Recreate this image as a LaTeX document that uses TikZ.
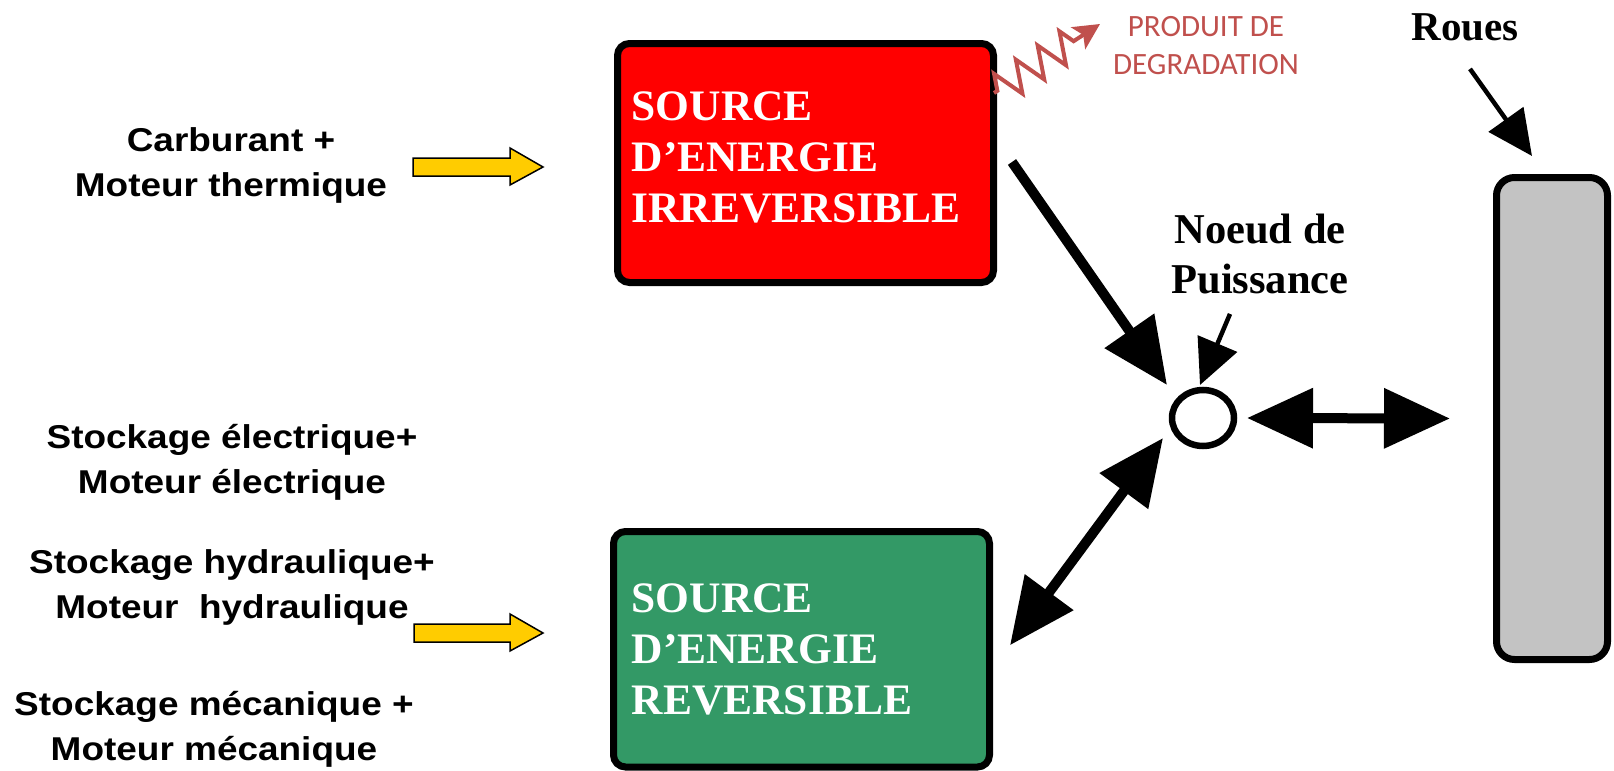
\documentclass[tikz,border=0pt]{standalone}
\usepackage{fontspec}
\setmainfont{Liberation Serif}
\newfontfamily\arialf{Liberation Sans}[FakeStretch=1.12]
\newfontfamily\timesf{Liberation Serif}
\newfontfamily\calif{Carlito}
\usetikzlibrary{arrows.meta,shapes.geometric,decorations.pathmorphing,calc}
\definecolor{boxred}{RGB}{255,0,0}
\definecolor{boxgreen}{RGB}{51,153,102}
\definecolor{wheelgray}{RGB}{195,195,195}
\definecolor{degr}{RGB}{192,80,77}
\definecolor{yarrow}{RGB}{255,204,0}
\tikzset{
 srcbox/.style={draw=black, line width=3.5pt, rounded corners=6pt, inner sep=0pt, minimum width=188pt},
 boxtext/.style={align=left, inner sep=0pt, text=white, anchor=base west,
   font=\timesf\bfseries\fontsize{21.75}{25.5}\selectfont},
 sidetext/.style={align=center, font=\arialf\bfseries\fontsize{16.5}{22.5}\selectfont, inner sep=0pt},
 bigarrow/.style={line width=5pt, -{Triangle[length=33pt,width=29pt]}},
 bigdouble/.style={line width=5pt, {Triangle[length=33pt,width=29pt]}-{Triangle[length=33pt,width=29pt]}},
 thinarrow/.style={line width=2.25pt, -{Triangle[length=22.5pt,width=21pt]}},
 feedarrow/.style={draw=black, line width=0.75pt, fill=yarrow},
 lbl/.style={font=\timesf\bfseries\fontsize{21.25}{25}\selectfont, align=center, inner sep=0pt},
}
\begin{document}
\begin{tikzpicture}[x=0.5pt,y=-0.5pt]
\useasboundingbox (0,0) rectangle (1614,771);
% boxes
\node[srcbox, fill=boxred, minimum height=119.5pt] (irr) at (805.5,163) {};
\node[boxtext] (irrtxt) at ($(irr.north west)+(17.25,182)$) {SOURCE\\D’ENERGIE\\IRREVERSIBLE};
\node[srcbox, fill=boxgreen, minimum height=117.75pt] (rev) at (801.5,649.25) {};
\node[boxtext] (revtxt) at ($(rev.north west)+(21.25,186)$) {SOURCE\\D’ENERGIE\\REVERSIBLE};
\node[draw, line width=3.5pt, rounded corners=9pt, fill=wheelgray, minimum width=55.5pt, minimum height=241pt, inner sep=0pt] (roues) at (1552,418.5) {};
\node[ellipse, draw, line width=3.25pt, minimum width=31pt, minimum height=28pt, inner sep=0pt] (noeud) at (1203,418) {};
% labels (anchor base = baseline of the last line)
\node[lbl, anchor=base] (noeudlbl) at (1260,293) {Noeud de\\Puissance};
\node[lbl, font=\timesf\bfseries\fontsize{20.5}{24}\selectfont, anchor=base] (roueslbl) at (1465,40) {Roues};
\node[font=\calif\fontsize{15.5}{19}\selectfont, text=degr, align=center, inner sep=0pt, anchor=base] (degrlbl) at (1206,74) {PRODUIT DE\\DEGRADATION};
% side texts
\node[sidetext, anchor=base] (carb) at (231,196) {Carburant +\\Moteur thermique};
\node[sidetext, anchor=base] (elec) at (232,493) {Stockage électrique+\\Moteur électrique};
\node[sidetext, anchor=base] (hydr) at (232,618) {Stockage hydraulique+\\Moteur~~hydraulique};
\node[sidetext, anchor=base] (meca) at (214,760) {Stockage mécanique +\\Moteur mécanique};
% yellow feed arrows
\draw[feedarrow] (413,158) -- (510,158) -- (510,148) -- (543,167) -- (510,185) -- (510,176) -- (413,176) -- cycle;
\draw[feedarrow] (414,624) -- (510,624) -- (510,614) -- (543,633) -- (510,651) -- (510,642) -- (414,642) -- cycle;
% connectors
\draw[bigarrow] ($(irr.east)+(15,-1)$) -- ($(noeud.center)+(-36,-33)$);
\draw[bigdouble] ($(rev.east)+(17,-4)$) -- ($(noeud.center)+(-40,20)$);
\draw[bigdouble] ($(noeud.center)+(44,0)$) -- ($(roues.west)+(-43,0)$);
\draw[thinarrow] ($(noeudlbl.south)+(-30,20)$) -- ($(noeud.center)+(-3,-33)$);
\draw[thinarrow] ($(roueslbl.south)+(5,28)$) -- ($(roues.north)+(-20,-18)$);
\coordinate (zzend) at (1100,24);
\draw[degr, line width=2pt, decorate, decoration={zigzag, segment length=13pt, amplitude=8pt, pre length=2pt, post length=12pt}, -{Stealth[length=13pt,width=13pt,inset=3pt]}] ($(irr.north east)+(-3,53)$) -- (zzend);
\end{tikzpicture}
\end{document}
